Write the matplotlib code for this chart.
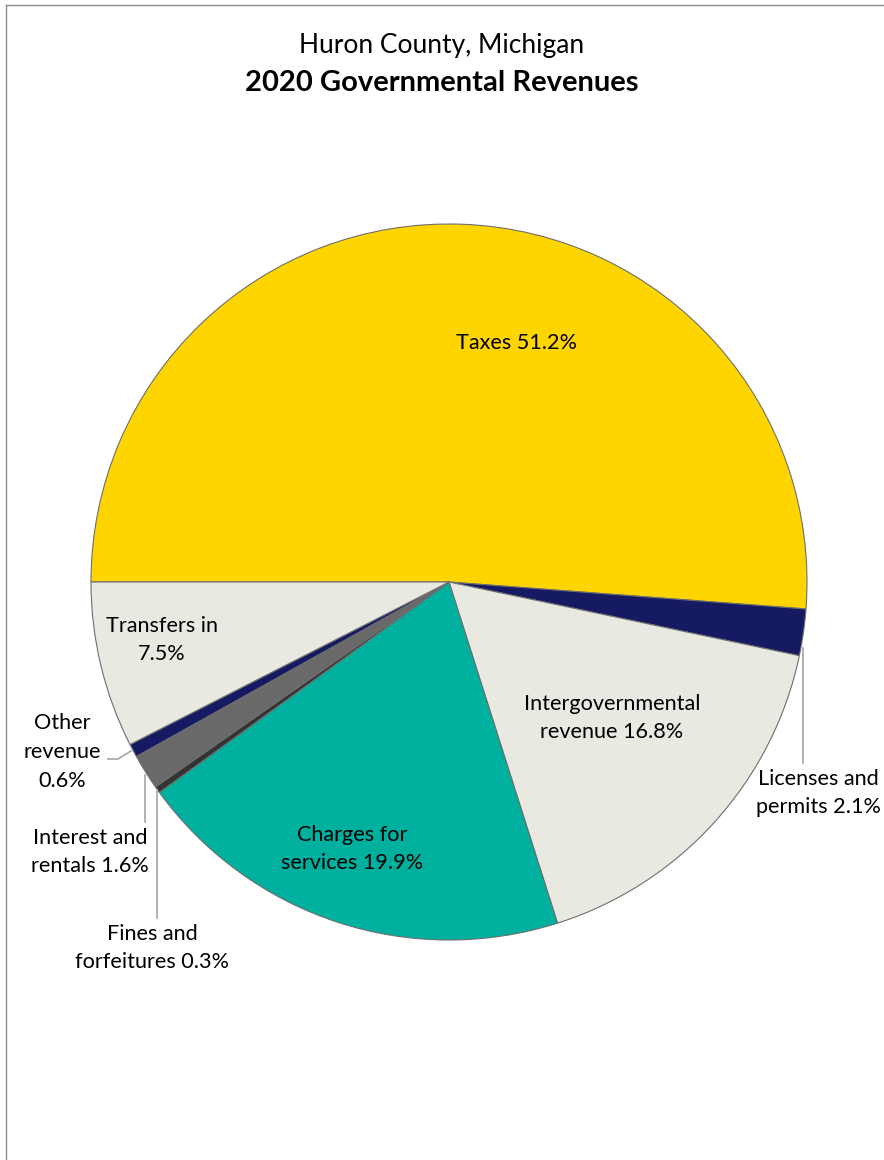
import matplotlib.pyplot as plt
from matplotlib.lines import Line2D

categories = ['Taxes', 'Licenses and\npermits', 'Intergovernmental\nrevenue', 'Charges for\nservices',
              'Fines and\nforfeitures', 'Interest and\nrentals', 'Other\nrevenue', 'Transfers in']
shares = [51.2, 2.1, 16.8, 19.9, 0.3, 1.6, 0.6, 7.5]
label_text = ['Taxes 51.2%', 'Licenses and\npermits 2.1%', 'Intergovernmental\nrevenue 16.8%',
              'Charges for\nservices 19.9%', 'Fines and\nforfeitures 0.3%', 'Interest and\nrentals 1.6%',
              'Other\nrevenue\n0.6%', 'Transfers in\n7.5%']

colors = ['#FFD500', '#161A63', '#E9E9E1', '#00B09F', '#333333', '#696969', '#161A63', '#E9E9E1']
W, H = 884, 1160
cx, cy, R = 449, 582, 358

plt.rcParams['font.family'] = ['Lato', 'DejaVu Sans']
fig = plt.figure(figsize=(W / 100, H / 100), dpi=100)
ax = fig.add_axes([(cx - R) / W, (H - cy - R) / H, 2 * R / W, 2 * R / H])
ax.pie(shares, colors=colors, startangle=180, counterclock=False, radius=1,
       wedgeprops=dict(edgecolor='#6E6E6E', linewidth=0.8))
ax.set_xlim(-1, 1)
ax.set_ylim(-1, 1)
ax.set_aspect('equal')
ax.axis('off')

def px(x, y):
    return (x - cx) / R, (cy - y) / R

# label centres in pixel space of the reference
label_pos = [(517, 343), (818, 793), (612, 718), (352, 849), (152, 948), (90, 852), (62, 752), (162, 640)]
for txt, (x, y) in zip(label_text, label_pos):
    dx, dy = px(x, y)
    ax.text(dx, dy, txt, ha='center', va='center', fontsize=15.6, color='#000000',
            linespacing=1.55, clip_on=False)

# leader lines
leaders = [
    [(803, 648), (803, 763)],
    [(157, 790), (157, 918)],
    [(145, 775), (145, 822)],
    [(108, 759), (118, 759), (131, 751)],
]
for pts in leaders:
    xs, ys = zip(*[px(x, y) for x, y in pts])
    ax.plot(xs, ys, color='#A6A6A6', linewidth=1.2, clip_on=False)

fig.text(0.5, 1 - 45 / H, 'Huron County, Michigan', ha='center', va='center', fontsize=19)
fig.text(0.5, 1 - 83 / H, '2020 Governmental Revenues', ha='center', va='center', fontsize=21,
         fontweight='bold')

# chart border (top and left only visible)
fig.add_artist(Line2D([6 / W, 1], [1 - 5 / H, 1 - 5 / H], color='#8C8C8C', linewidth=1))
fig.add_artist(Line2D([6 / W, 6 / W], [0, 1 - 5 / H], color='#8C8C8C', linewidth=1))

fig.savefig('out.png', dpi=100)
